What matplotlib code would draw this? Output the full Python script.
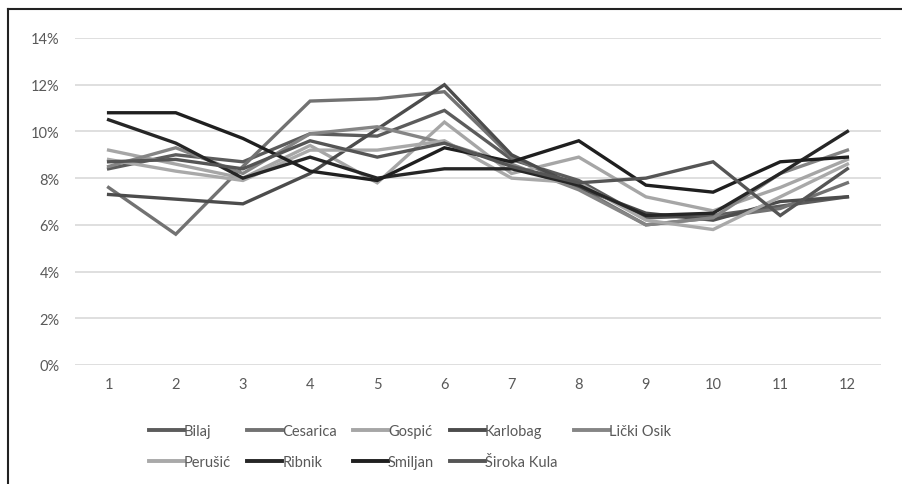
import matplotlib.pyplot as plt
from matplotlib.lines import Line2D
import numpy as np

plt.rcParams['font.family'] = ['Lato', 'DejaVu Sans']

months = np.arange(1, 13)
names = ["Bilaj", "Cesarica", "Gospić", "Karlobag", "Lički Osik",
         "Perušić", "Ribnik", "Smiljan", "Široka Kula"]
colors = ["#5c5c5c", "#727272", "#a6a6a6", "#4c4c4c", "#858585",
          "#a9a9a9", "#262626", "#1f1f1f", "#555555"]

# shares in percent
bilaj = [8.4, 9.0, 8.7, 9.9, 9.8, 10.9, 8.8, 7.9, 6.3, 6.4, 6.8, 7.2]
cesarica = [7.6, 5.6, 8.5, 11.3, 11.4, 11.7, 8.9, 7.6, 6.0, 6.3, 6.7, 7.8]
gospic = [9.2, 8.6, 8.0, 9.4, 7.8, 10.4, 8.2, 8.9, 7.2, 6.6, 7.6, 8.8]
karlobag = [7.3, 7.1, 6.9, 8.2, 10.1, 12.0, 9.0, 7.6, 6.5, 6.2, 7.0, 7.2]
licki_osik = [8.5, 9.3, 8.2, 9.9, 10.2, 9.5, 8.6, 7.5, 6.0, 6.3, 8.2, 9.2]
perusic = [8.8, 8.3, 7.9, 9.2, 9.2, 9.6, 8.0, 7.8, 6.2, 5.8, 7.2, 8.6]
ribnik = [10.5, 9.5, 8.0, 8.9, 8.0, 8.4, 8.4, 7.7, 6.4, 6.5, 8.2, 10.0]
smiljan = [10.8, 10.8, 9.7, 8.3, 7.9, 9.3, 8.7, 9.6, 7.7, 7.4, 8.7, 8.9]
siroka_kula = [8.7, 8.8, 8.4, 9.6, 8.9, 9.5, 8.5, 7.8, 8.0, 8.7, 6.4, 8.4]

series = [bilaj, cesarica, gospic, karlobag, licki_osik,
          perusic, ribnik, smiljan, siroka_kula]

fig = plt.figure(figsize=(9.03, 4.85), dpi=100)
ax = fig.add_axes([75 / 903, 1 - 366 / 485, (881 - 75) / 903, (366 - 39) / 485])

for vals, c in zip(series, colors):
    ax.plot(months, np.array(vals) / 100, color=c, lw=2.4, solid_joinstyle='miter')

ax.set_xlim(0.5, 12.5)
ax.set_ylim(0, 0.14)
ax.set_yticks(np.arange(0, 0.141, 0.02))
ax.set_yticklabels([f"{int(round(v * 100))}%" for v in np.arange(0, 0.141, 0.02)])
ax.set_xticks(months)
ax.grid(axis='y', color='#d9d9d9', lw=1.2)
ax.set_axisbelow(True)
for s in ax.spines.values():
    s.set_visible(False)
ax.tick_params(length=0, colors='#595959', labelsize=10.5)
ax.tick_params(axis='y', pad=11)
ax.tick_params(axis='x', pad=9)

# legend laid out row by row like the original
order = [0, 5, 1, 6, 2, 7, 3, 8, 4]
handles = [Line2D([], [], color=colors[i], lw=2.8) for i in order]
labels = [names[i] for i in order]
fig.legend(handles, labels, ncol=5, loc='upper left', bbox_to_anchor=(149 / 903, 1 - 425 / 485),
           frameon=False, fontsize=10.5, handlelength=2.4, handletextpad=0.0,
           columnspacing=1.1, labelcolor='#595959', borderaxespad=0, borderpad=0,
           labelspacing=1.2)

# outer frame
fig.add_artist(Line2D([8 / 903, 1], [1 - 10 / 485, 1 - 10 / 485], color='#222222', lw=1.5,
                      transform=fig.transFigure))
fig.add_artist(Line2D([8 / 903, 8 / 903], [0, 1 - 10 / 485], color='#222222', lw=1.5,
                      transform=fig.transFigure))

fig.savefig("out.png", dpi=100)
